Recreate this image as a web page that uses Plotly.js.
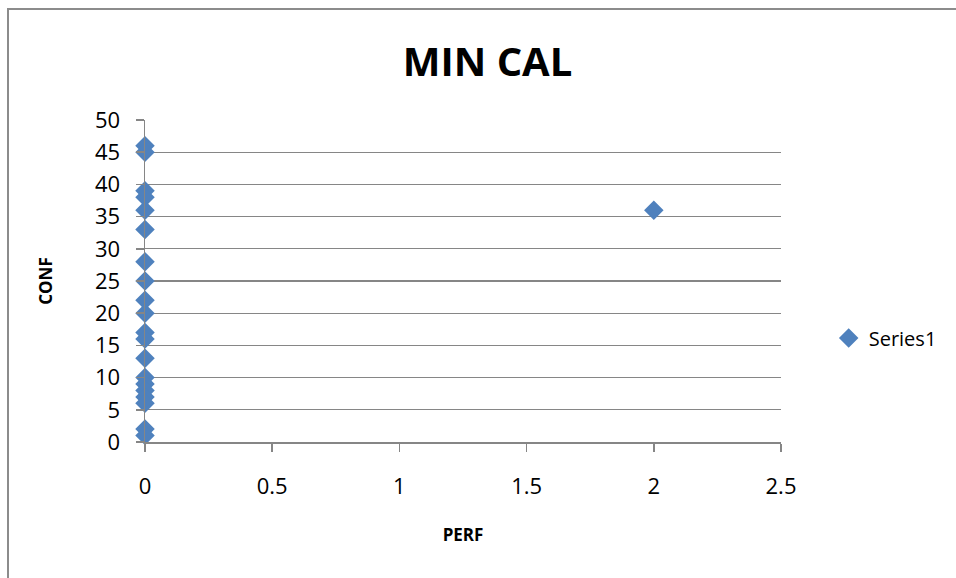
<!DOCTYPE html>
<html><head><meta charset="utf-8">
<script src="https://cdn.plot.ly/plotly-3.0.1.min.js"></script>
<style>
html,body{margin:0;padding:0;background:#fff;overflow:hidden;}
#frame{position:absolute;left:7px;top:8px;width:1000px;height:600px;border:2px solid #8c8c8c;box-sizing:border-box;}
#chart{position:absolute;left:0;top:0;width:956px;height:578px;}
</style>
</head><body>
<div id="frame"></div>
<div id="chart"></div>
<script>
const seriesName = "Series1";
const perf = [0,0,0,0,0,0,0,0,0,0,0,0,0,0,0,0,0,0,0,0,2];
const conf = [46,45,39,38,36,33,28,25,22,20,17,16,13,10,9,8,7,6,2,1,36];
const xTicks = [0,0.5,1,1.5,2,2.5];
const yTicks = [0,5,10,15,20,25,30,35,40,45,50];

const font = "Open Sans, Noto Sans, sans-serif";
const trace = {
  x: perf, y: conf, type: "scatter", mode: "markers", name: seriesName,
  cliponaxis: false,
  marker: {symbol: "diamond", size: 15, color: "#4F81BD", line: {width: 0}}
};
const layout = {
  width: 956, height: 578,
  paper_bgcolor: "rgba(0,0,0,0)", plot_bgcolor: "rgba(0,0,0,0)",
  margin: {l: 145, r: 175, t: 120, b: 136},
  font: {family: font, color: "#000", size: 22},
  title: {text: "<b>MIN CAL</b>", font: {family: font, size: 40, color: "#000"}, x: 0.51, xanchor: "center", y: 0.893, yanchor: "middle"},
  xaxis: {
    range: [0, 2.5], tickvals: xTicks, ticktext: xTicks.map(String),
    showgrid: false, zeroline: false, showline: true, linecolor: "#868686", linewidth: 1.5,
    ticks: "outside", ticklen: 8, tickcolor: "#868686", tickwidth: 1.5,
    tickfont: {size: 22}, ticklabelstandoff: 16,
    title: {text: "<b>PERF</b>", font: {size: 17}, standoff: 30}
  },
  yaxis: {
    range: [0, 50], tickvals: yTicks, ticktext: yTicks.map(String),
    showgrid: true, gridcolor: "#868686", gridwidth: 1.3,
    zeroline: false, showline: true, linecolor: "#868686", linewidth: 1.5,
    ticks: "outside", ticklen: 8, tickcolor: "#868686", tickwidth: 1.5,
    tickfont: {size: 22}, ticklabelstandoff: 11,
    title: {text: "<b>CONF</b>", font: {size: 17}, standoff: 38}
  },
  showlegend: true,
  legend: {x: 1.075, y: 0.323, xanchor: "left", yanchor: "middle", font: {size: 20}, bgcolor: "rgba(0,0,0,0)"}
};
Plotly.newPlot("chart", [trace], layout, {displayModeBar: false, staticPlot: true});
</script>
</body></html>
